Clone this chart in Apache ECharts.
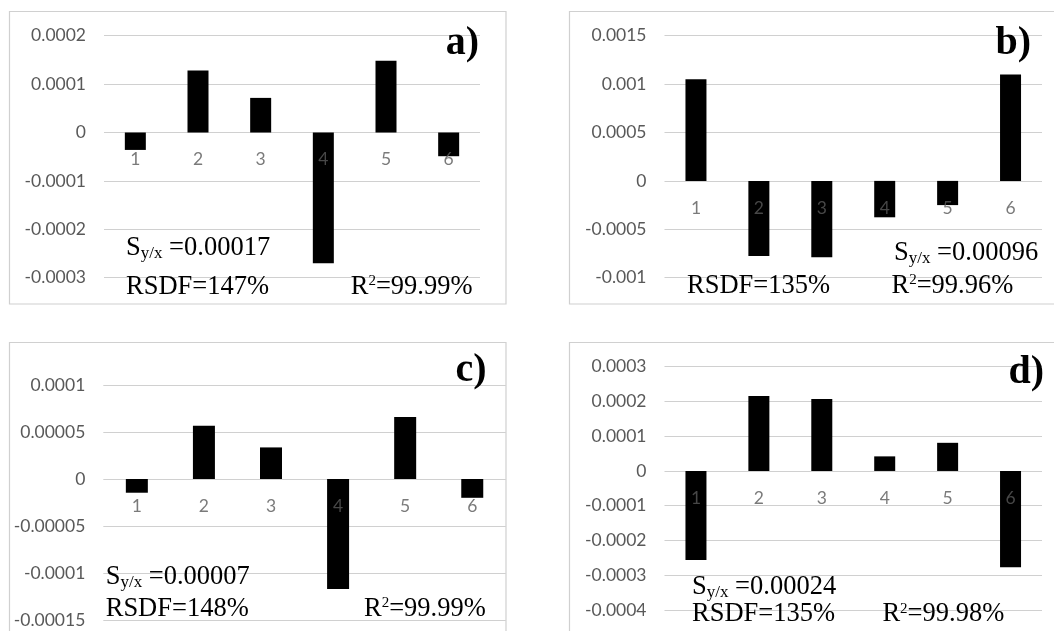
<!DOCTYPE html>
<html><head><meta charset="utf-8">
<script src="https://cdn.jsdelivr.net/npm/echarts@6/dist/echarts.min.js"></script>
<style>html,body{margin:0;padding:0;background:#fff}#c{width:1054px;height:631px}</style>
</head><body><div id="c"></div>
<script>
// ---- data ----
const categories = ['1', '2', '3', '4', '5', '6'];

const residualsA = [-0.000036, 0.000128, 0.0000715, -0.00027, 0.000148, -0.000049];
const residualsB = [0.00105, -0.000776, -0.00079, -0.000376, -0.00025, 0.0011];
const residualsC = [-0.0000146, 0.0000567, 0.0000336, -0.000117, 0.000066, -0.00002];
const residualsD = [-0.000256, 0.000216, 0.000207, 0.000042, 0.000081, -0.000277];

const yTicksA = [-0.0003, -0.0002, -0.0001, 0, 0.0001, 0.0002];
const yTicksB = [-0.001, -0.0005, 0, 0.0005, 0.001, 0.0015];
const yTicksC = [-0.00015, -0.0001, -0.00005, 0, 0.00005, 0.0001];
const yTicksD = [-0.0004, -0.0003, -0.0002, -0.0001, 0, 0.0001, 0.0002, 0.0003];

const panelLetters = ['a)', 'b)', 'c)', 'd)'];
const syxValues = ['0.00017', '0.00096', '0.00007', '0.00024'];
const rsdfValues = ['147%', '135%', '148%', '135%'];
const r2Values = ['99.99%', '99.96%', '99.99%', '99.98%'];

// ---- layout ----
const residuals = [residualsA, residualsB, residualsC, residualsD];
const yTicks = [yTicksA, yTicksB, yTicksC, yTicksD];
const grids = [
  { left: 104, top: 35.7, width: 376, height: 242 },
  { left: 664.5, top: 35.7, width: 377.5, height: 242 },
  { left: 103.3, top: 385, width: 402.5, height: 235 },
  { left: 664.5, top: 366.7, width: 377.5, height: 243.3 }
];
const boxes = [
  { x: 9.5, y: 11.5, width: 496.5, height: 292.5 },
  { x: 569.5, y: 11.5, width: 520, height: 292.5 },
  { x: 9.5, y: 342.5, width: 496.5, height: 320 },
  { x: 569.5, y: 342.5, width: 520, height: 320 }
];
const letterPos = [[479, 44], [1031, 44], [486.5, 370.5], [1044, 372.5]];
const syxPos = [[126, 248], [894, 253], [105.7, 577], [692, 587]];
const rsdfPos = [[126, 287], [687, 286], [105.7, 609], [692, 614.4]];
const r2Pos = [[350.7, 287], [891.5, 286], [364, 609], [882.4, 614.4]];

const AXIS_FONT = 'Lato, "Open Sans", sans-serif';
const SERIF = '"Liberation Serif", "Times New Roman", serif';
const fmt = v => String(parseFloat(Number(v).toPrecision(6)));

const chart = echarts.init(document.getElementById('c'), null, { renderer: 'canvas' });

const option = {
  animation: false,
  backgroundColor: '#fff',
  grid: grids.map(g => Object.assign({ containLabel: false }, g)),
  xAxis: grids.map((g, i) => ({
    type: 'category',
    gridIndex: i,
    data: categories,
    axisLine: { show: false },
    axisTick: { show: false },
    axisLabel: { show: false },
    splitLine: { show: false }
  })),
  yAxis: yTicks.map((t, i) => ({
    type: 'value',
    gridIndex: i,
    min: t[0],
    max: t[t.length - 1],
    interval: parseFloat((t[1] - t[0]).toPrecision(6)),
    axisLine: { show: false },
    axisTick: { show: false },
    axisLabel: { color: '#595959', fontSize: 17.5, fontFamily: AXIS_FONT, margin: 18, formatter: fmt },
    splitLine: { show: true, lineStyle: { color: '#d0d0d0', width: 1.2 } }
  })),
  series: [],
  graphic: []
};

residuals.forEach((r, i) => {
  option.series.push({
    type: 'bar',
    xAxisIndex: i,
    yAxisIndex: i,
    data: r,
    barWidth: i === 2 ? 22 : 21,
    itemStyle: { color: '#000' },
    silent: true,
    z: 2
  });
  // category labels sitting under the zero line (Excel style "next to axis")
  option.series.push({
    type: 'scatter',
    xAxisIndex: i,
    yAxisIndex: i,
    data: categories.map(c => [c, 0]),
    symbolSize: 0,
    silent: true,
    z: 5,
    label: {
      show: true,
      position: 'bottom',
      distance: 18,
      formatter: p => categories[p.dataIndex],
      color: '#595959',
      fontSize: 17.5,
      fontFamily: AXIS_FONT
    }
  });
});

const richBase = {
  m: { fontSize: 26.5, fontFamily: SERIF, color: '#000' },
  sub: { fontSize: 17, fontFamily: SERIF, color: '#000', padding: [12, 0, 0, 0] },
  sup: { fontSize: 15, fontFamily: SERIF, color: '#000', padding: [0, 0, 11, 0] }
};

boxes.forEach((b, i) => {
  option.graphic.push({
    type: 'rect', z: -10, silent: true,
    shape: b,
    style: { fill: 'none', stroke: '#d0d0d0', lineWidth: 1.2 }
  });
  option.graphic.push({
    type: 'text', z: 50, silent: true,
    x: letterPos[i][0], y: letterPos[i][1],
    style: { text: panelLetters[i], fontSize: 40, fontWeight: 'bold', fontFamily: SERIF, fill: '#000', align: 'right', verticalAlign: 'middle' }
  });
  option.graphic.push({
    type: 'text', z: 50, silent: true,
    x: syxPos[i][0], y: syxPos[i][1],
    style: { text: '{m|S}{sub|y/x}{m| =' + syxValues[i] + '}', rich: richBase, align: 'left', verticalAlign: 'middle' }
  });
  option.graphic.push({
    type: 'text', z: 50, silent: true,
    x: rsdfPos[i][0], y: rsdfPos[i][1],
    style: { text: '{m|RSDF=' + rsdfValues[i] + '}', rich: richBase, align: 'left', verticalAlign: 'middle' }
  });
  option.graphic.push({
    type: 'text', z: 50, silent: true,
    x: r2Pos[i][0], y: r2Pos[i][1],
    style: { text: '{m|R}{sup|2}{m|=' + r2Values[i] + '}', rich: richBase, align: 'left', verticalAlign: 'middle' }
  });
});

chart.setOption(option);
</script>
</body></html>
